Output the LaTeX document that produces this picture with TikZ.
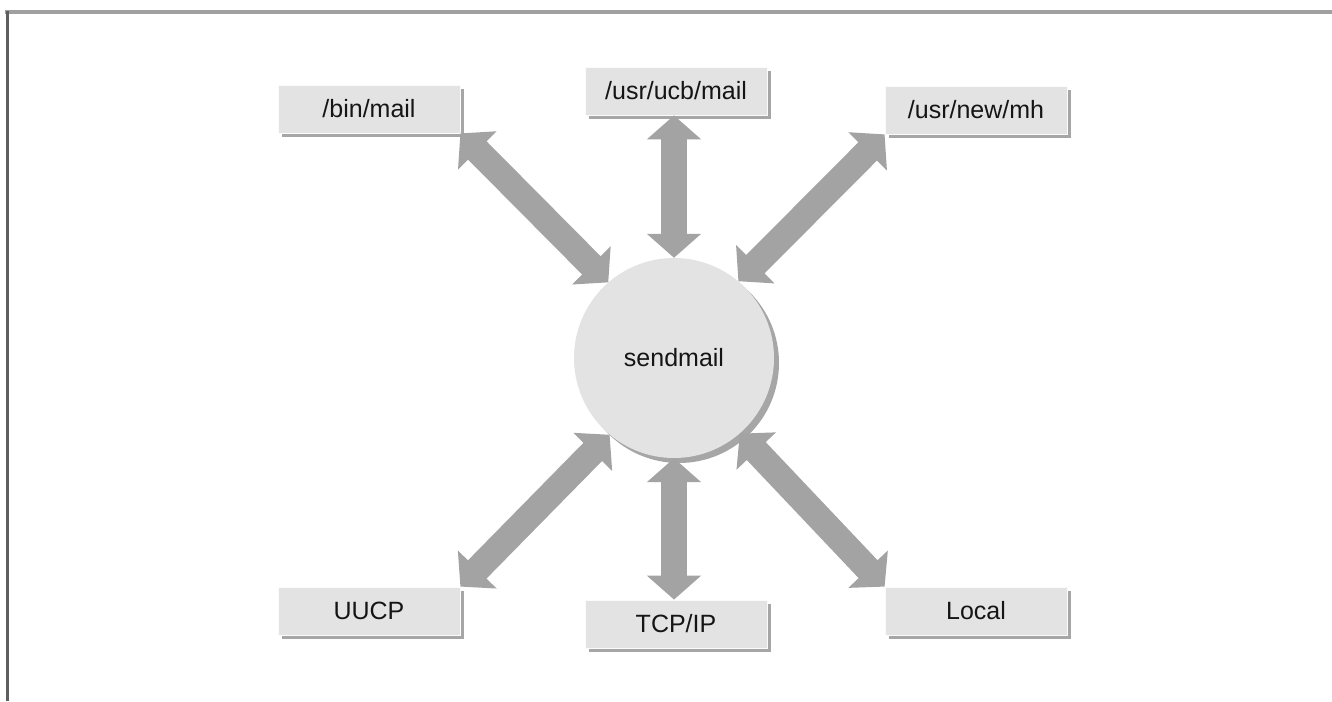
\documentclass[tikz,border=0pt]{standalone}
\usepackage{fontspec}
\setmainfont{Liberation Sans}
\usetikzlibrary{arrows.meta,shadows}
\definecolor{boxfill}{HTML}{E3E3E3}
\definecolor{shadowgray}{HTML}{A6A6A6}
\definecolor{arrowgray}{HTML}{A3A3A3}
\definecolor{framegray}{HTML}{777777}
\definecolor{txt}{HTML}{151515}
\begin{document}
\begin{tikzpicture}[x=1pt,y=-1pt,
  prog/.style={rectangle, fill=boxfill, draw=white!85!boxfill, line width=0.8pt,
    minimum width=182pt, minimum height=48pt, inner sep=0pt,
    font=\fontsize{25}{30}\selectfont, text=txt,
    drop shadow={shadow xshift=4pt, shadow yshift=-4pt, fill=shadowgray, opacity=1}},
  hub/.style={circle, fill=boxfill, minimum size=200pt, inner sep=0pt,
    font=\fontsize{25}{30}\selectfont, text=txt,
    drop shadow={shadow xshift=5pt, shadow yshift=-5pt, fill=shadowgray, opacity=1}},
  bigarrow/.style={draw=arrowgray, line width=26pt,
    {Triangle[width=53pt,length=24pt]}-{Triangle[width=53pt,length=24pt]}}
]
\useasboundingbox (0,0) rectangle (1332,701);
\fill[white] (0,0) rectangle (1332,701);
% frame
\draw[framegray!70, line width=4pt] (5,12.5) -- (1332,12.5);
\draw[framegray!80!black, line width=3pt] (7.5,11) -- (7.5,701);

\node[hub] (sm) at (674,358) {sendmail};
\node[prog] (bin) at (369,109) {/bin/mail};
\node[prog] (ucb) at (676,91) {/usr/ucb/mail};
\node[prog] (mh) at (976,110) {/usr/new/mh};
\node[prog] (uucp) at (369,611) {UUCP};
\node[prog] (tcp) at (676,624) {TCP/IP};
\node[prog] (local) at (976,611) {Local};

\draw[bigarrow] (bin.south east) -- (sm.131);
\draw[bigarrow] (ucb.south -| sm.north) -- (sm.north);
\draw[bigarrow] (mh.south west) -- (sm.50);
\draw[bigarrow] (uucp.north east) -- (sm.-130);
\draw[bigarrow] (tcp.north -| sm.south) -- (sm.south);
\draw[bigarrow] (local.north west) -- (sm.-49);
\end{tikzpicture}
\end{document}
